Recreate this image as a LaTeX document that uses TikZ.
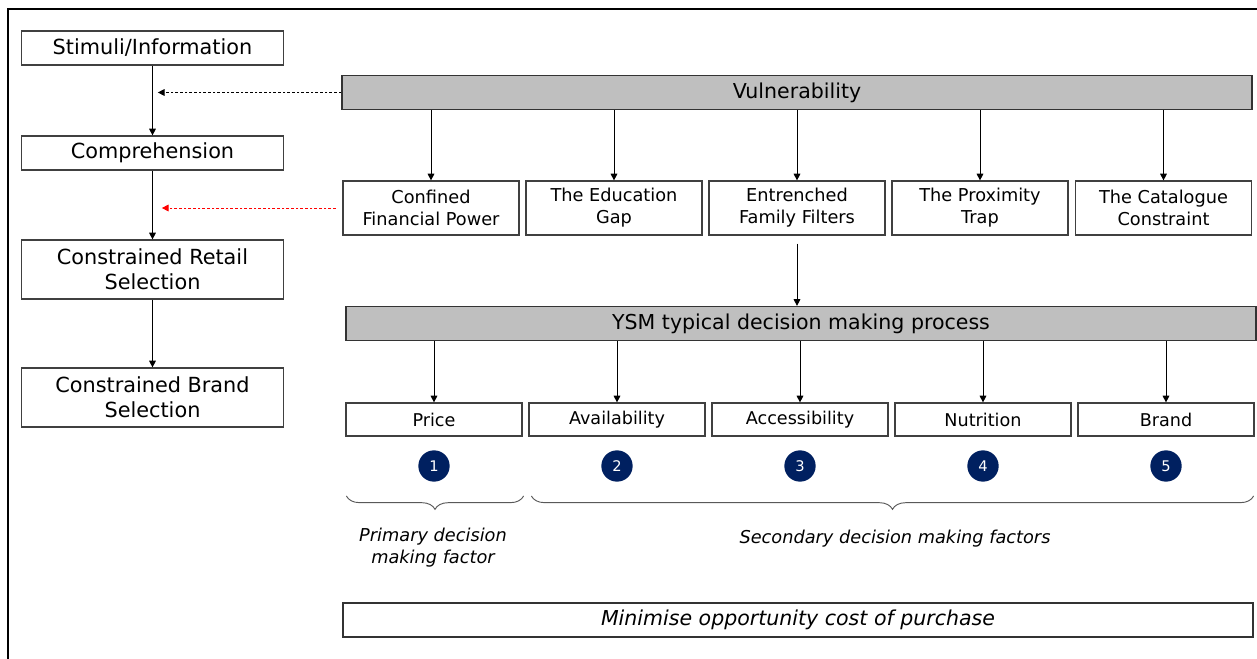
\documentclass[tikz,border=0pt]{standalone}
\usepackage{fontspec}
\setmainfont{DejaVu Sans}
\usepackage{tikz}
\usetikzlibrary{positioning,arrows.meta,calc,decorations.pathreplacing}
\usepackage{xcolor}
\definecolor{navy}{HTML}{002060}
\definecolor{bargray}{HTML}{BFBFBF}

\begin{document}
\begin{tikzpicture}[
    x=0.75pt, y=-0.75pt,
    >={Triangle[length=5pt, width=5pt]},
    stagebox/.style={draw=black!75, line width=0.9pt, rectangle, align=center, minimum width=197pt, inner sep=0pt, font=\fontsize{15.6}{19}\selectfont},
    barbox/.style={draw=black!80, line width=0.9pt, fill=bargray, rectangle, minimum width=682.5pt, minimum height=25.5pt, inner sep=0pt, font=\fontsize{15.4}{18}\selectfont},
    vulbox/.style={draw=black!75, line width=0.9pt, rectangle, align=center, minimum width=132pt, minimum height=40.5pt, inner sep=0pt, font=\fontsize{13.3}{16.5}\selectfont},
    factorbox/.style={draw=black!75, line width=0.9pt, rectangle, minimum width=132pt, minimum height=24.75pt, inner sep=0pt, font=\fontsize{13.2}{16}\selectfont},
    numdot/.style={circle, fill=navy, text=white, minimum size=23.5pt, inner sep=0pt, font=\fontsize{11}{11}\selectfont},
    flow/.style={draw, ->, line width=0.7pt},
    feedback/.style={draw, ->, line width=0.6pt, dash pattern=on 2pt off 1.5pt},
    factorbrace/.style={draw=black!65, line width=0.7pt, decorate, decoration={brace, mirror, amplitude=10pt}},
    bracelabel/.style={align=center, font=\fontsize{13.3}{16.5}\selectfont\itshape},
]
\useasboundingbox (0,0) rectangle (1257,659);
\draw[line width=1.4pt] (8,659) -- (8,9) -- (1257,9);

\node[stagebox, minimum height=25.5pt] (stim) at (152.5,48) {Stimuli/Information};
\node[stagebox, minimum height=25.5pt] (comp) at (152.5,153) {Comprehension};
\node[stagebox, minimum height=44.25pt] (retail) at (152.5,269.5) {Constrained Retail\\Selection};
\node[stagebox, minimum height=44.25pt] (brand) at (152.5,397.5) {Constrained Brand\\Selection};

\draw[flow] (stim) -- (comp);
\draw[flow] (comp) -- (retail);
\draw[flow] (retail) -- (brand);

\node[barbox] (vul) at (797,92.5) {Vulnerability};

\node[vulbox] (power) at (431,208) {Confined\\Financial Power};
\node[vulbox] (edu) at (614,208) {The Education\\Gap};
\node[vulbox] (family) at (797,208) {Entrenched\\Family Filters};
\node[vulbox] (trap) at (980,208) {The Proximity\\Trap};
\node[vulbox] (cat) at (1163.5,208) {The Catalogue\\Constraint};

\draw[flow] (power.north |- vul.south) -- (power.north);
\draw[flow] (edu.north |- vul.south) -- (edu.north);
\draw[flow] (family.north |- vul.south) -- (family.north);
\draw[flow] (trap.north |- vul.south) -- (trap.north);
\draw[flow] (cat.north |- vul.south) -- (cat.north);

\draw[feedback] (vul.west) -- ([xshift=4pt]stim.south |- vul.west);
\draw[feedback, red] ([xshift=-5pt]power.west) -- ([xshift=7pt]comp.south |- power.west);

\node[barbox] (ysm) at (801,323.5) {YSM typical decision making process};
\draw[flow] ([yshift=-6pt]family.south) -- (family.south |- ysm.north);

\node[factorbox] (price) at (434,419.5) {Price};
\node[factorbox] (avail) at (617,419.5) {Availability};
\node[factorbox] (access) at (800,419.5) {Accessibility};
\node[factorbox] (nutri) at (983,419.5) {Nutrition};
\node[factorbox] (brandf) at (1166,419.5) {Brand};

\draw[flow] (price.north |- ysm.south) -- (price.north);
\draw[flow] (avail.north |- ysm.south) -- (avail.north);
\draw[flow] (access.north |- ysm.south) -- (access.north);
\draw[flow] (nutri.north |- ysm.south) -- (nutri.north);
\draw[flow] (brandf.north |- ysm.south) -- (brandf.north);

\node[numdot] (n1) at (price |- 0,466) {1};
\node[numdot] (n2) at (avail |- 0,466) {2};
\node[numdot] (n3) at (access |- 0,466) {3};
\node[numdot] (n4) at (nutri |- 0,466) {4};
\node[numdot] (n5) at (brandf |- 0,466) {5};

\draw[factorbrace] ([xshift=0.75pt]price.west |- 0,496) -- ([xshift=0.75pt]price.east |- 0,496);
\draw[factorbrace] ([xshift=2.25pt]avail.west |- 0,496) -- ([xshift=-0.75pt]brandf.east |- 0,496);

\node[bracelabel] (primary) at (433,548) {Primary decision\\making factor};
\node[bracelabel] (secondary) at (895,539) {Secondary decision making factors};

\node[barbox, fill=none, font=\fontsize{15.4}{18}\selectfont\itshape] (goal) at (798,620) {Minimise opportunity cost of purchase};
\end{tikzpicture}
\end{document}
